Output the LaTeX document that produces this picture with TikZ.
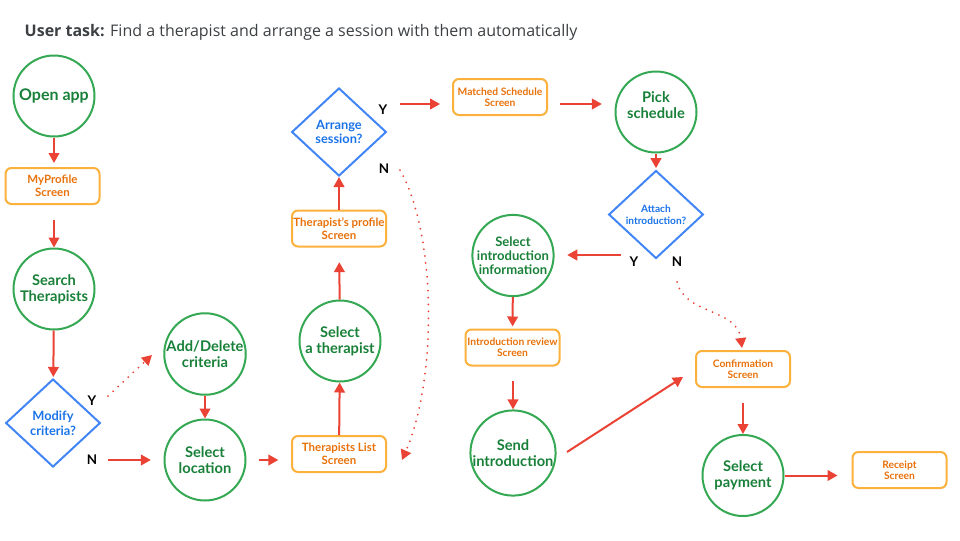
\documentclass[tikz,border=0pt]{standalone}
\usepackage{fontspec}
\setmainfont{Lato}
\newfontfamily\titlefont{Open Sans}
\usetikzlibrary{arrows.meta,shapes.geometric}
\definecolor{gstroke}{HTML}{34A853}
\definecolor{gtext}{HTML}{188038}
\definecolor{ostroke}{HTML}{FBB13C}
\definecolor{otext}{HTML}{E8710A}
\definecolor{bstroke}{HTML}{4285F4}
\definecolor{btext}{HTML}{1A73E8}
\definecolor{redarr}{HTML}{EA4335}
\definecolor{titlec}{HTML}{3C4043}
\begin{document}
\begin{tikzpicture}[x=0.75pt,y=-0.75pt,
  circ/.style={circle,draw=gstroke,line width=1.5pt,minimum size=60.75pt,inner sep=0pt,align=center,font=\fontsize{11}{12}\selectfont\bfseries,text=gtext},
  ctext/.style={align=center,font=\fontsize{11}{12}\selectfont\bfseries,text=gtext},
  scr/.style={rectangle,rounded corners=4.5pt,draw=ostroke,line width=1.5pt,minimum width=70.5pt,minimum height=27pt,inner sep=1pt,align=center,font=\fontsize{8.6}{9.8}\selectfont\bfseries,text=otext},
  scrs/.style={scr,font=\fontsize{7.7}{8.5}\selectfont\bfseries},
  dia/.style={diamond,draw=bstroke,line width=1.5pt,minimum width=71pt,minimum height=66pt,inner sep=0pt},
  dtext/.style={font=\fontsize{9.6}{11}\selectfont\bfseries,text=btext,align=center},
  dtexts/.style={font=\fontsize{7.6}{9}\selectfont\bfseries,text=btext,align=center},
  yn/.style={font=\fontsize{10}{10}\selectfont\bfseries,text=black},
  arr/.style={draw=redarr,line width=1.5pt,-{Triangle[length=7.5pt,width=8pt]}},
  dotarr/.style={arr,line cap=round,dash pattern=on 0pt off 5.2pt}
]
\useasboundingbox (0,0) rectangle (960,540);

\node[anchor=west,font=\titlefont\fontsize{12}{14}\selectfont,text=titlec] (title) at (20,32) {{\titlefont\bfseries User task:} Find a therapist and arrange a session with them automatically};

% nodes
\node[circ,font=\fontsize{12}{13}\selectfont\bfseries] (open) at (54,96) {Open app};
\node[scr] (myp) at (52.5,186) {MyProfile\\Screen};
\node[circ] (search) at (54,289) {Search\\Therapists};
\node[dia,label={[dtext]center:{Modify\\criteria?}}] (mod) at (53,423) {};
\node[circ] (add) at (205,354) {Add/Delete\\criteria};
\node[circ] (loc) at (205,460) {Select\\location};
\node[scr] (tlist) at (339,454) {Therapists List\\Screen};
\node[circ] (selt) at (340,341) {Select\\a therapist};
\node[scr] (tprof) at (339,228.5) {Therapist’s profile\\Screen};
\node[dia,label={[dtext]center:{Arrange\\session?}}] (arrg) at (339,132) {};
\node[scrs] (msch) at (500,97) {Matched Schedule\\Screen};
\node[circ,label={[ctext,yshift=5.5pt]center:{Pick\\schedule}}] (pick) at (656,112) {};
\node[dia,label={[dtexts]center:{Attach\\introduction?}}] (att) at (656,214.5) {};
\node[circ,font=\fontsize{9.8}{10.5}\selectfont\bfseries] (selin) at (513,255.5) {Select\\introduction\\information};
\node[scrs] (irev) at (512.5,347.5) {Introduction review\\Screen};
\node[circ] (send) at (513,453) {Send\\introduction};
\node[scrs] (conf) at (743,369) {Confirmation\\Screen};
\node[circ] (pay) at (743,475.5) {Select\\payment};
\node[scrs] (rec) at (899.5,470) {Receipt\\Screen};

% Y/N labels
\node[yn] (my) at (92,401) {Y};
\node[yn] (mn) at (92,460) {N};
\node[yn] (ay) at (383,110) {Y};
\node[yn] (an) at (384,169) {N};
\node[yn] (ty) at (634,262) {Y};
\node[yn] (tn) at (677,262) {N};

% free ends
\coordinate (mys) at (108,396);
\coordinate (mye) at (152,355);
\coordinate (mns) at (108,460);
\coordinate (ays) at (400,104);
\coordinate (ans) at (400,170);
\coordinate (ane) at (402,460);
\coordinate (mss) at (560,104);
\coordinate (tys) at (621,255);
\coordinate (sis) at (567,452);
\coordinate (sie) at (683,377);
\coordinate (tns) at (677,282);
\coordinate (tne) at (742,348);

% connectors
\draw[arr,shorten >=3pt] (open) -- (open |- myp.north);
\draw[arr,shorten <=11pt] (myp.south -| search) -- (search);
\draw[arr,shorten >=1pt] (search) -- (mod);
\draw[dotarr] (mys) -- (mye);
\draw[arr,shorten >=9.5pt] (mns) -- (mns -| loc.west);
\draw[arr] (add) -- (loc);
\draw[arr,shorten <=9.5pt,shorten >=9.5pt] (loc.east) -- (loc.east -| tlist.west);
\draw[arr] (tlist) -- (selt);
\draw[arr,shorten >=11pt] (selt) -- (tprof);
\draw[arr] (tprof) -- (arrg);
\draw[arr,shorten >=9pt] (ays) -- (ays -| msch.west);
\draw[dotarr] (ans) .. controls (437,235) and (437,380) .. (ane);
\draw[arr,shorten >=9.5pt] (mss) -- (mss -| pick.west);
\draw[arr,shorten >=1pt] (pick) -- (att);
\draw[arr,shorten >=9.5pt] (tys) -- (tys -| selin.east);
\draw[arr,shorten >=1.5pt] (selin) -- (irev);
\draw[arr,shorten <=11pt] (irev.south -| send) -- (send);
\draw[arr] (sis) -- (sie);
\draw[dotarr] (tns) .. controls (685,315) and (737,308) .. (tne);
\draw[arr,shorten <=11pt] (conf.south -| pay) -- (pay);
\draw[arr,shorten >=10.5pt] (pay.east) -- (pay.east -| rec.west);
\end{tikzpicture}
\end{document}
